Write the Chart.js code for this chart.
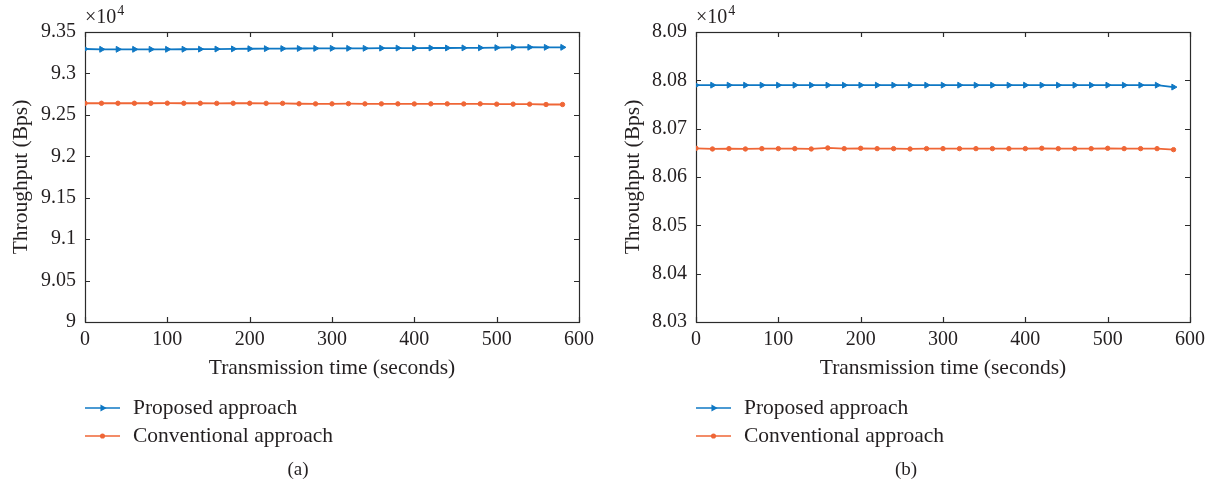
<!DOCTYPE html>
<html>
<head>
<meta charset="utf-8">
<script src="https://cdn.jsdelivr.net/npm/chart.js@4/dist/chart.umd.min.js"></script>
<style>
  html, body { margin: 0; padding: 0; background: #fff; }
  #wrap { position: relative; width: 1214px; height: 487px; overflow: hidden; }
  .panel { position: absolute; top: 0; width: 607px; height: 487px; }
  canvas { display: block; }
</style>
</head>
<body>
<div id="wrap">
  <div class="panel" style="left:0"><canvas id="chartA" width="607" height="487"></canvas></div>
  <div class="panel" style="left:607px"><canvas id="chartB" width="607" height="487"></canvas></div>
</div>
<script>
// Transmission time (seconds), sampled every 20 s
const timeSeconds = [0, 20, 40, 60, 80, 100, 120, 140, 160, 180, 200, 220, 240, 260, 280,
                     300, 320, 340, 360, 380, 400, 420, 440, 460, 480, 500, 520, 540, 560, 580];

// Panel (a): throughput in units of 10^4 Bps
const proposedA = [9.3295, 9.3291, 9.3291, 9.3291, 9.3291, 9.3291, 9.3292, 9.3293, 9.3294, 9.3296,
                   9.3298, 9.3299, 9.3300, 9.3301, 9.3302, 9.3303, 9.3303, 9.3303, 9.3305, 9.3306,
                   9.3306, 9.3307, 9.3307, 9.3308, 9.3309, 9.3311, 9.3314, 9.3316, 9.3315, 9.3315];
const conventionalA = [9.2640, 9.2640, 9.2640, 9.2640, 9.2640, 9.2641, 9.2640, 9.2640, 9.2639, 9.2640,
                       9.2640, 9.2639, 9.2639, 9.2634, 9.2633, 9.2633, 9.2635, 9.2633, 9.2633, 9.2633,
                       9.2632, 9.2633, 9.2633, 9.2632, 9.2633, 9.2629, 9.2629, 9.2629, 9.2625, 9.2625];

// Panel (b): throughput in units of 10^4 Bps
const proposedB = [8.0790, 8.0790, 8.0790, 8.0790, 8.0790, 8.0790, 8.0790, 8.0790, 8.0790, 8.0790,
                   8.0790, 8.0790, 8.0790, 8.0790, 8.0790, 8.0790, 8.0790, 8.0790, 8.0790, 8.0790,
                   8.0790, 8.0790, 8.0790, 8.0790, 8.0790, 8.0790, 8.0790, 8.0790, 8.0790, 8.0786];
const conventionalB = [8.06594, 8.06580, 8.06587, 8.06580, 8.06587, 8.06587, 8.06587, 8.06580, 8.06601, 8.06587,
                       8.06594, 8.06587, 8.06587, 8.06580, 8.06587, 8.06587, 8.06587, 8.06587, 8.06587, 8.06587,
                       8.06587, 8.06594, 8.06587, 8.06587, 8.06587, 8.06594, 8.06587, 8.06587, 8.06587, 8.06566];

// Tick values
const xTickValues = [0, 100, 200, 300, 400, 500, 600];
const yTickValuesA = [9, 9.05, 9.1, 9.15, 9.2, 9.25, 9.3, 9.35];
const yTickValuesB = [8.03, 8.04, 8.05, 8.06, 8.07, 8.08, 8.09];

// Text
const seriesNames = ['Proposed approach', 'Conventional approach'];
const xAxisTitle = 'Transmission time (seconds)';
const yAxisTitle = 'Throughput (Bps)';

const FONT_FAMILY = '"Liberation Serif", "Times New Roman", serif';
const TEXT_COLOR = '#231f20';
const AXIS_COLOR = '#2b2b2b';
const BLUE = '#0f78c4';
const ORANGE = '#ef6636';

// Axes box with inward tick marks on all four sides
const frameTicks = {
  id: 'frameTicks',
  beforeDatasetsDraw(chart) {
    const { ctx, chartArea: a, scales } = chart;
    const len = 5;
    ctx.save();
    ctx.strokeStyle = AXIS_COLOR;
    ctx.lineWidth = 1.2;
    ctx.beginPath();
    scales.x.ticks.forEach(t => {
      const px = Math.round(scales.x.getPixelForValue(t.value)) + 0.5;
      ctx.moveTo(px, a.bottom); ctx.lineTo(px, a.bottom - len);
      ctx.moveTo(px, a.top); ctx.lineTo(px, a.top + len);
    });
    scales.y.ticks.forEach(t => {
      const py = Math.round(scales.y.getPixelForValue(t.value)) + 0.5;
      ctx.moveTo(a.left, py); ctx.lineTo(a.left + len, py);
      ctx.moveTo(a.right, py); ctx.lineTo(a.right - len, py);
    });
    ctx.stroke();
    ctx.strokeRect(Math.round(a.left) + 0.5, Math.round(a.top) + 0.5,
                   Math.round(a.right - a.left), Math.round(a.bottom - a.top));
    ctx.restore();
  }
};

// "×10^4" multiplier above the y axis
const exponentLabel = {
  id: 'exponentLabel',
  afterDraw(chart) {
    const { ctx, chartArea: a } = chart;
    ctx.save();
    ctx.fillStyle = TEXT_COLOR;
    ctx.textBaseline = 'alphabetic';
    ctx.textAlign = 'left';
    ctx.font = '20px ' + FONT_FAMILY;
    const base = '\u00d710';
    ctx.fillText(base, a.left, a.top - 9);
    const w = ctx.measureText(base).width;
    ctx.font = '14px ' + FONT_FAMILY;
    ctx.fillText('4', a.left + w + 1, a.top - 17);
    ctx.restore();
  }
};

// Legend block below the x-axis title, plus the panel caption
const blockLegend = {
  id: 'blockLegend',
  afterDraw(chart, args, opts) {
    const { ctx, chartArea: a } = chart;
    const x0 = a.left;
    ctx.save();
    chart.data.datasets.forEach((ds, i) => {
      const y = opts.top + i * opts.gap;
      ctx.strokeStyle = ds.borderColor;
      ctx.fillStyle = ds.borderColor;
      ctx.lineWidth = 1.5;
      ctx.beginPath();
      ctx.moveTo(x0, y); ctx.lineTo(x0 + 35, y);
      ctx.stroke();
      Chart.helpers.drawPoint(ctx, {
        pointStyle: ds.pointStyle, rotation: ds.pointRotation,
        radius: ds.pointStyle === 'triangle' ? 2.6 : 1.8, borderWidth: 1
      }, x0 + 17.5, y);
      ctx.fillStyle = TEXT_COLOR;
      ctx.font = '21.5px ' + FONT_FAMILY;
      ctx.textAlign = 'left';
      ctx.textBaseline = 'middle';
      ctx.fillText(ds.label, x0 + 48, y);
    });
    ctx.font = '19px ' + FONT_FAMILY;
    ctx.fillStyle = TEXT_COLOR;
    ctx.textAlign = 'center';
    ctx.textBaseline = 'middle';
    ctx.fillText(opts.caption, opts.captionX, opts.captionY);
    ctx.restore();
  }
};

function buildPanel(canvasId, cfg) {
  const tickFont = { family: FONT_FAMILY, size: 20 };
  const titleFont = { family: FONT_FAMILY, size: 21.5 };
  return new Chart(document.getElementById(canvasId), {
    type: 'line',
    data: {
      datasets: [
        {
          label: seriesNames[0],
          data: timeSeconds.map((t, i) => ({ x: t, y: cfg.proposed[i] })),
          borderColor: BLUE, backgroundColor: BLUE,
          borderWidth: 1.8,
          pointStyle: 'triangle', pointRotation: 90,
          pointRadius: 3.4, pointBorderWidth: 1,
          pointBackgroundColor: BLUE, pointBorderColor: BLUE,
          tension: 0, fill: false
        },
        {
          label: seriesNames[1],
          data: timeSeconds.map((t, i) => ({ x: t, y: cfg.conventional[i] })),
          borderColor: ORANGE, backgroundColor: ORANGE,
          borderWidth: 1.8,
          pointStyle: 'circle', pointRotation: 0,
          pointRadius: 2.2, pointBorderWidth: 1,
          pointBackgroundColor: ORANGE, pointBorderColor: ORANGE,
          tension: 0, fill: false
        }
      ]
    },
    options: {
      responsive: false,
      animation: false,
      devicePixelRatio: 1,
      layout: { padding: { left: 0, top: 32, right: cfg.padRight, bottom: 105 } },
      plugins: {
        legend: { display: false },
        tooltip: { enabled: false },
        blockLegend: { top: 408, gap: 28, caption: cfg.caption, captionX: cfg.captionX, captionY: 470 }
      },
      scales: {
        x: {
          type: 'linear', min: 0, max: 600,
          afterBuildTicks: s => { s.ticks = xTickValues.map(v => ({ value: v })); },
          afterFit: s => { s.height = 60; },
          grid: { display: false, drawTicks: false },
          border: { display: false },
          ticks: { font: tickFont, color: TEXT_COLOR, padding: 6, maxRotation: 0, autoSkip: false,
                   callback: v => String(v) },
          title: { display: true, text: xAxisTitle, font: titleFont, color: TEXT_COLOR,
                   padding: { top: 0, bottom: 1 } }
        },
        y: {
          type: 'linear', min: cfg.yMin, max: cfg.yMax,
          afterBuildTicks: s => { s.ticks = cfg.yTicks.map(v => ({ value: v })); },
          afterFit: s => { s.width = cfg.yAxisWidth; },
          grid: { display: false, drawTicks: false },
          border: { display: false },
          ticks: { font: tickFont, color: TEXT_COLOR, padding: 9, autoSkip: false,
                   callback: v => String(+v.toFixed(2)) },
          title: { display: true, text: yAxisTitle, font: titleFont, color: TEXT_COLOR,
                   padding: { top: cfg.yTitlePad, bottom: 0 } }
        }
      }
    },
    plugins: [frameTicks, exponentLabel, blockLegend]
  });
}

buildPanel('chartA', {
  proposed: proposedA, conventional: conventionalA,
  yTicks: yTickValuesA, yMin: 9, yMax: 9.35,
  yAxisWidth: 85, padRight: 28, yTitlePad: 8,
  caption: '(a)', captionX: 298
});

buildPanel('chartB', {
  proposed: proposedB, conventional: conventionalB,
  yTicks: yTickValuesB, yMin: 8.03, yMax: 8.09,
  yAxisWidth: 89, padRight: 24, yTitlePad: 13,
  caption: '(b)', captionX: 299
});
</script>
</body>
</html>
